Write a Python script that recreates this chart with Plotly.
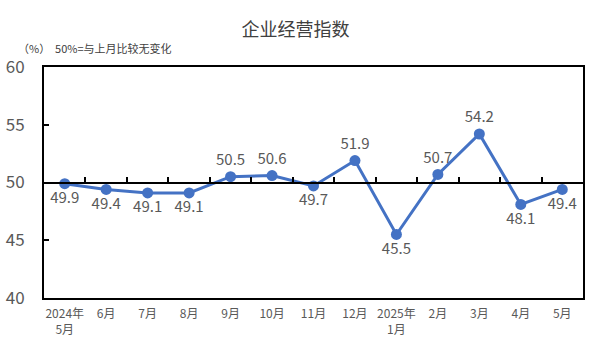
import plotly.graph_objects as go

categories = ["2024年<br>5月", "6月", "7月", "8月", "9月", "10月", "11月", "12月",
              "2025年<br>1月", "2月", "3月", "4月", "5月"]
values = [49.9, 49.4, 49.1, 49.1, 50.5, 50.6, 49.7, 51.9, 45.5, 50.7, 54.2, 48.1, 49.4]
label_pos = ["bottom center", "bottom center", "bottom center", "bottom center",
             "top center", "top center", "bottom center", "top center",
             "bottom center", "top center", "top center", "bottom center", "bottom center"]
y_ticks = [40, 45, 50, 55, 60]

xs = list(range(len(categories)))
boundaries = [i - 0.5 for i in range(len(categories) + 1)]

fig = go.Figure()
fig.add_trace(go.Scatter(
    x=xs, y=values, mode="lines+markers+text",
    line=dict(color="#4472C4", width=3),
    marker=dict(color="#4472C4", size=11),
    text=[f"{v:.1f}" for v in values],
    textposition=label_pos,
    textfont=dict(size=15, color="#595959", family="Noto Sans CJK SC"),
    cliponaxis=False, showlegend=False,
))
# dummy trace on the 50-line axis
fig.add_trace(go.Scatter(x=[None], y=[None], xaxis="x2", yaxis="y", showlegend=False))

fig.update_layout(
    width=591, height=354,
    margin=dict(l=44, r=6, t=67, b=56),
    paper_bgcolor="white", plot_bgcolor="white",
    title=dict(text="企业经营指数", x=0.5, xanchor="center", y=1 - 30 / 354, yanchor="middle",
               font=dict(size=18, color="#404040", family="Noto Sans CJK SC")),
    xaxis=dict(
        range=[-0.5, len(categories) - 0.5],
        tickmode="array", tickvals=xs, ticktext=categories,
        ticks="", showgrid=False, zeroline=False,
        showline=True, linecolor="black", linewidth=2, mirror=True,
        ticklabelstandoff=4,
        tickfont=dict(size=12, color="#595959", family="Noto Sans CJK SC"),
    ),
    xaxis2=dict(
        range=[-0.5, len(categories) - 0.5], overlaying="x", anchor="free",
        position=(50 - 40) / (60 - 40), side="bottom",
        tickmode="array", tickvals=boundaries, showticklabels=False,
        ticks="inside", ticklen=5, tickcolor="black", tickwidth=1.5,
        showline=True, linecolor="black", linewidth=1.5, showgrid=False, zeroline=False,
    ),
    yaxis=dict(
        range=[40, 60], tickmode="array", tickvals=y_ticks,
        ticks="inside", ticklen=5, tickcolor="black", tickwidth=1.5,
        showgrid=False, zeroline=False,
        showline=True, linecolor="black", linewidth=2, mirror=True,
        ticklabelstandoff=14,
        tickfont=dict(size=17, color="#595959", family="Noto Sans CJK SC"),
    ),
    annotations=[dict(
        text="（%）  50%=与上月比较无变化", xref="paper", yref="paper",
        x=-44 / 541, y=1 + 19 / 231, xanchor="left", yanchor="middle",
        xshift=16, showarrow=False,
        font=dict(size=11, color="#404040", family="Noto Sans CJK SC"),
    )],
)

fig.write_html("out.html")
